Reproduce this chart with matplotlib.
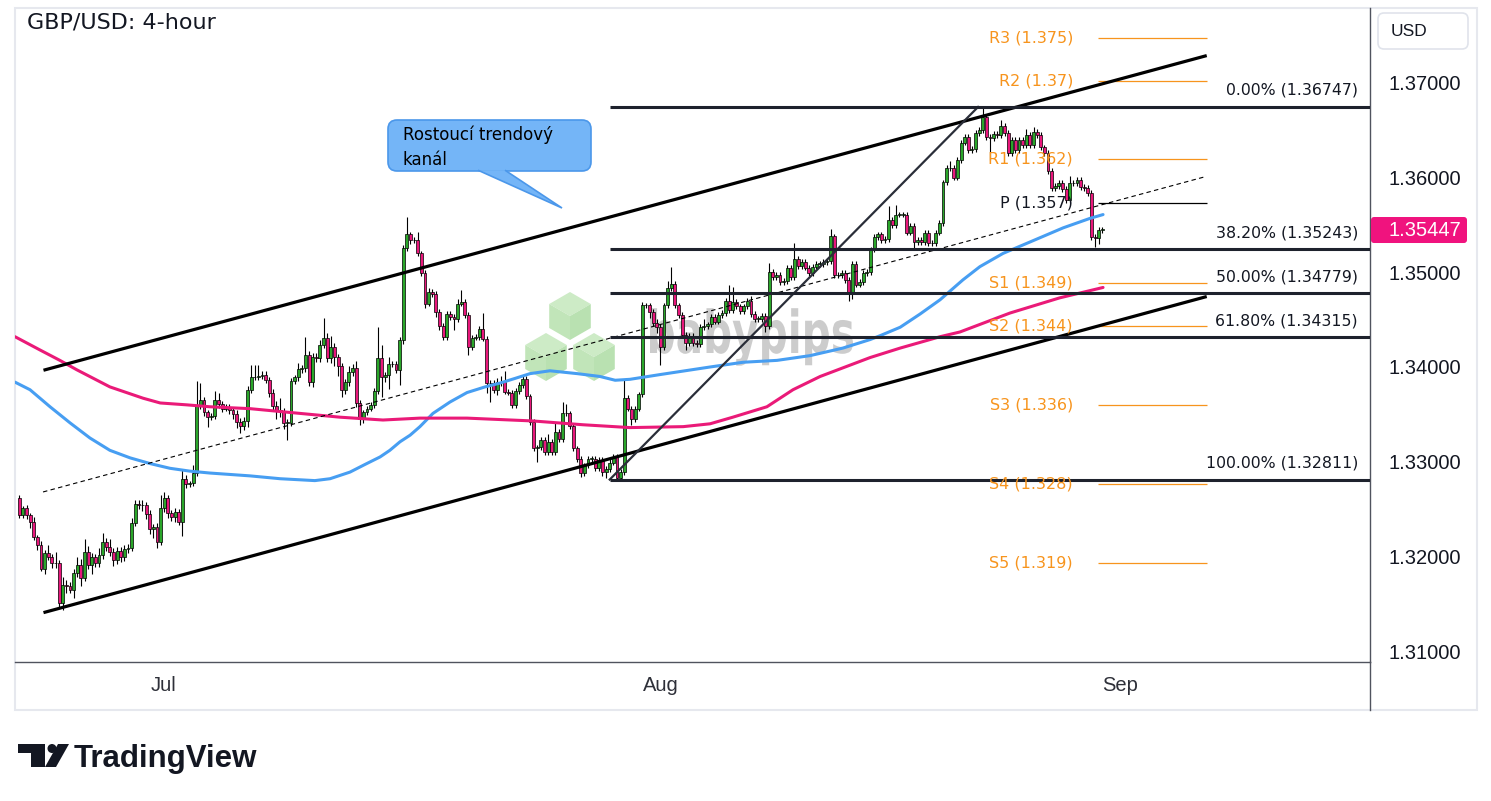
"""GBP/USD 4-hour chart: rising channel, Fibonacci retracement and pivot levels."""

import matplotlib

matplotlib.use("Agg")

import matplotlib.pyplot as plt  # noqa: E402
import matplotlib.transforms as mtransforms  # noqa: E402
import numpy as np  # noqa: E402
from matplotlib.font_manager import FontProperties  # noqa: E402
from matplotlib.lines import Line2D  # noqa: E402
from matplotlib.patches import Circle, FancyBboxPatch, PathPatch, Polygon, Rectangle  # noqa: E402
from matplotlib.textpath import TextPath  # noqa: E402

W, H = 1491, 801

# ---- candles: prices in pips above 1.3000 ------------------------------------
first_open = 262
closes = [
    244, 251, 244, 236, 220, 212, 187, 204, 199, 193,
    193, 151, 170, 169, 164, 182, 191, 177, 205, 191,
    199, 193, 201, 215, 210, 205, 196, 206, 199, 208,
    209, 235, 255, 254, 254, 245, 229, 231, 215, 251,
    262, 246, 242, 247, 236, 282, 276, 277, 288, 360,
    365, 352, 347, 348, 365, 361, 356, 358, 355, 350,
    342, 338, 343, 376, 389, 389, 390, 392, 386, 373,
    359, 355, 352, 341, 341, 385, 389, 398, 399, 413,
    384, 411, 409, 423, 431, 409, 421, 411, 401, 376,
    384, 395, 399, 362, 345, 352, 356, 360, 375, 409,
    389, 392, 403, 403, 397, 429, 526, 540, 534, 534,
    520, 499, 467, 479, 477, 458, 443, 432, 456, 453,
    451, 467, 469, 455, 421, 431, 432, 440, 430, 383,
    383, 376, 384, 384, 374, 373, 360, 375, 381, 387,
    369, 342, 314, 315, 323, 310, 321, 310, 331, 324,
    351, 351, 338, 314, 303, 288, 296, 303, 303, 293,
    302, 289, 292, 299, 305, 283, 289, 367, 356, 345,
    356, 371, 465, 465, 458, 446, 442, 421, 465, 483,
    488, 465, 455, 434, 425, 433, 425, 424, 442, 443,
    445, 453, 448, 455, 457, 470, 460, 469, 464, 459,
    464, 470, 456, 451, 451, 454, 443, 500, 495, 497,
    490, 491, 505, 495, 514, 507, 511, 505, 499, 506,
    509, 509, 511, 512, 538, 497, 497, 499, 492, 478,
    509, 487, 490, 499, 500, 524, 537, 540, 534, 535,
    555, 550, 561, 561, 561, 542, 549, 532, 534, 532,
    542, 531, 531, 542, 552, 595, 610, 610, 600, 619,
    637, 643, 629, 630, 647, 650, 664, 643, 642, 646,
    645, 655, 647, 626, 640, 629, 640, 634, 645, 634,
    648, 645, 632, 626, 607, 589, 591, 594, 588, 576,
    594, 594, 598, 590, 589, 584, 537, 536, 545, 545,
]
wick_up = [
    3, 2, 3, 2, 6, 3, 4, 3, 8, 3,
    12, 3, 8, 5, 4, 5, 8, 6, 13, 6,
    5, 4, 8, 10, 4, 8, 4, 4, 4, 4,
    4, 5, 5, 4, 6, 3, 4, 3, 4, 14,
    6, 3, 3, 4, 3, 10, 4, 3, 8, 25,
    18, 3, 3, 3, 10, 8, 3, 3, 3, 3,
    5, 4, 4, 4, 13, 13, 12, 4, 4, 3,
    4, 5, 12, 5, 4, 3, 3, 6, 3, 19,
    4, 4, 4, 6, 21, 5, 12, 4, 3, 3,
    3, 6, 4, 7, 3, 3, 3, 3, 3, 33,
    14, 3, 8, 3, 3, 3, 3, 18, 3, 3,
    9, 3, 3, 4, 3, 3, 3, 3, 3, 3,
    3, 5, 12, 3, 3, 3, 3, 3, 17, 3,
    3, 3, 4, 6, 12, 3, 3, 3, 3, 3,
    3, 3, 3, 3, 3, 3, 8, 3, 10, 3,
    12, 10, 3, 3, 3, 3, 3, 3, 3, 3,
    3, 3, 3, 5, 3, 3, 3, 19, 3, 3,
    3, 3, 4, 3, 3, 3, 5, 3, 3, 8,
    18, 3, 3, 3, 3, 3, 3, 3, 3, 8,
    3, 3, 3, 3, 3, 3, 17, 15, 3, 3,
    3, 3, 5, 3, 3, 3, 3, 10, 3, 3,
    3, 3, 3, 3, 17, 3, 3, 3, 3, 3,
    3, 3, 3, 3, 8, 3, 3, 3, 3, 3,
    3, 3, 3, 3, 3, 3, 3, 3, 3, 3,
    15, 3, 10, 3, 3, 3, 3, 3, 3, 3,
    3, 3, 3, 3, 3, 3, 3, 8, 3, 3,
    3, 3, 3, 3, 3, 3, 11, 3, 3, 3,
    3, 6, 3, 3, 3, 3, 3, 3, 6, 3,
    6, 3, 3, 3, 3, 3, 3, 3, 3, 3,
    8, 3, 3, 3, 3, 3, 3, 3, 3, 3,
]
wick_dn = [
    4, 3, 5, 6, 3, 5, 3, 6, 3, 5,
    5, 6, 8, 8, 3, 8, 4, 8, 3, 4,
    10, 4, 4, 4, 4, 5, 6, 4, 5, 4,
    4, 3, 3, 4, 6, 6, 5, 10, 6, 3,
    4, 5, 5, 6, 3, 15, 4, 3, 3, 3,
    4, 4, 10, 3, 3, 4, 4, 3, 5, 5,
    6, 8, 5, 6, 3, 3, 3, 3, 3, 5,
    5, 10, 5, 6, 18, 3, 3, 4, 4, 4,
    4, 5, 4, 4, 3, 4, 5, 10, 10, 8,
    4, 4, 4, 4, 6, 4, 3, 3, 3, 3,
    21, 5, 15, 3, 3, 16, 5, 3, 4, 3,
    3, 3, 5, 3, 3, 5, 4, 3, 3, 3,
    12, 3, 3, 3, 8, 3, 3, 3, 3, 10,
    20, 3, 6, 4, 3, 3, 3, 3, 3, 3,
    3, 3, 3, 14, 3, 3, 3, 3, 3, 3,
    3, 3, 3, 3, 3, 4, 3, 3, 3, 3,
    3, 4, 6, 3, 3, 2, 3, 3, 3, 6,
    3, 3, 3, 3, 6, 3, 6, 19, 3, 3,
    3, 3, 3, 3, 7, 3, 3, 3, 3, 3,
    3, 3, 3, 3, 3, 3, 3, 3, 3, 3,
    3, 3, 3, 3, 3, 3, 6, 3, 3, 3,
    3, 3, 3, 3, 3, 3, 3, 3, 3, 3,
    3, 3, 3, 3, 3, 3, 3, 3, 3, 8,
    6, 3, 3, 3, 3, 3, 3, 3, 3, 3,
    3, 3, 3, 3, 3, 3, 3, 8, 3, 3,
    3, 3, 3, 3, 3, 3, 3, 3, 3, 3,
    3, 3, 3, 3, 3, 3, 3, 3, 23, 3,
    3, 3, 3, 3, 3, 3, 3, 3, 3, 3,
    3, 3, 3, 3, 3, 3, 3, 3, 3, 3,
    3, 3, 3, 3, 3, 3, 3, 9, 6, 3,
]
last_price = 1.35447

# ---- moving averages (candle index, pips above 1.3000) ----------------------
blue_ma_idx = [-1.19, 2.95, 8.48, 14.0, 19.5, 25.0, 30.6, 36.1, 41.6, 47.1, 52.6, 63.7,
               72.0, 81.6, 85.8, 91.3, 95.4, 99.6, 102.3, 105.1, 107.9, 110.6, 114.2,
               118.9, 123.6, 128.6, 132.7, 136.9, 141.0, 146.5, 154.0, 160.3, 164.5,
               168.6, 176.9, 183.8, 190.7, 199.8, 209.2, 218.3, 227.4, 234.9, 237.6,
               243.2, 248.7, 254.2, 260.5, 265.2, 271.6, 279.0, 288.2, 295.6, 299.2]
blue_ma = [384, 376, 358, 341, 325, 312, 304, 298, 293, 290, 288, 285,
           282, 280, 282, 289, 297, 305, 312, 321, 328, 337, 351,
           363, 373, 379, 383, 388, 393, 396, 393, 390, 386,
           387, 392, 396, 400, 405, 407, 412, 420, 429, 433,
           442, 456, 471, 492, 506, 520, 532, 547, 557, 561]
red_ma_idx = [-1.19, 5.7, 11.2, 15.9, 25.0, 34.2, 38.9, 46.3, 52.6, 63.7, 74.7, 88.5,
              100.4, 110.6, 123.6, 141.8, 155.6, 168.6, 183.3, 190.7, 197.0, 206.4,
              213.6, 221.1, 228.0, 234.9, 243.2, 254.2, 259.7, 273.5, 287.2, 299.2]
red_ma = [432, 418, 407, 397, 379, 367, 362, 360, 358, 356, 352, 347,
          344, 346, 346, 343, 339, 336, 337, 340, 347, 358,
          376, 390, 400, 410, 420, 432, 437, 457, 473, 484]

# ---- axes ------------------------------------------------------------------
month_ticks = [39.7, 177.2, 304.0]
month_labels = ["Jul", "Aug", "Sep"]
price_ticks = [1.31, 1.32, 1.33, 1.34, 1.35, 1.36, 1.37]
x_range = (-1.19, 372.9)
y_range = (1.30884, 1.37792)

# ---- drawings ---------------------------------------------------------------
channel_x = [7.1, 327.4]
channel_upper = [1.3397, 1.37285]
channel_lower = [1.3141, 1.3474]
mid_x = [6.55, 327.4]
channel_mid = [1.3268, 1.3601]

fib_start, fib_end = 163.0, 264.7
fib_low, fib_high = 1.32811, 1.36747
fib_ratios = [0.0, 0.382, 0.5, 0.618, 1.0]

pivot_names = ["R3", "R2", "R1", "P", "S1", "S2", "S3", "S4", "S5"]
pivot_values = [1.3748, 1.3702, 1.3620, 1.3573, 1.3489, 1.3443, 1.3360, 1.3276, 1.3193]
pivot_text = ["1.375", "1.37", "1.362", "1.357", "1.349", "1.344", "1.336", "1.328", "1.319"]
pivot_span = (297.8, 327.9)

GREEN = "#2aa62a"
PINK = "#e8177b"
BLUE = "#479ef2"
MAGENTA = "#ea1a78"
ORANGE = "#f7941d"
INK = "#131722"

plt.rcParams["font.family"] = ["DejaVu Sans"]

fig = plt.figure(figsize=(W / 100, H / 100), dpi=100)
fig.patch.set_facecolor("white")
# image-pixel coordinates (y down) -> display coordinates
pix = mtransforms.Affine2D().scale(1, -1).translate(0, H)

ax = fig.add_axes([15 / W, 1 - 662 / H, (1370 - 15) / W, (662 - 8) / H])
ax.set_xlim(*x_range)
ax.set_ylim(*y_range)
ax.set_zorder(2)
ax.patch.set_alpha(0)

# candles
x = np.arange(len(closes))
c = 1.3 + np.array(closes) / 1e4
o = np.concatenate([[1.3 + first_open / 1e4], c[:-1]])
hi = np.maximum(o, c) + np.array(wick_up) / 1e4
lo = np.minimum(o, c) - np.array(wick_dn) / 1e4
colors = np.where(c >= o, GREEN, PINK)
ax.vlines(x, lo, hi, color="#000000", lw=0.8, zorder=3)
ax.bar(x, np.maximum(np.abs(c - o), 0.00004), bottom=np.minimum(o, c), width=0.8,
       color=colors, edgecolor="#000000", linewidth=0.5, zorder=3.1)

# moving averages
ax.plot(blue_ma_idx, 1.3 + np.array(blue_ma) / 1e4, color=BLUE, lw=2.2, zorder=4,
        solid_capstyle="round", solid_joinstyle="round")
ax.plot(red_ma_idx, 1.3 + np.array(red_ma) / 1e4, color=MAGENTA, lw=2.2, zorder=4,
        solid_capstyle="round", solid_joinstyle="round")

# rising channel
ax.plot(channel_x, channel_upper, color="#000000", lw=2.3, zorder=6)
ax.plot(channel_x, channel_lower, color="#000000", lw=2.3, zorder=6)
ax.plot(mid_x, channel_mid, color="#000000", lw=0.8, dashes=(4, 3), zorder=6)

# fibonacci retracement
ax.plot([fib_start, fib_end], [fib_low, fib_high], color="#2a2e39", lw=1.6, zorder=6)
for r in fib_ratios:
    level = fib_high - r * (fib_high - fib_low)
    ax.hlines(level, fib_start, x_range[1], color="#1e222d", lw=2.2, zorder=6)
    ax.annotate(f"{r * 100:.2f}% ({level:.5f})", (369.6, level), xytext=(0, 6.5),
                textcoords="offset points", ha="right", va="bottom", fontsize=11.3,
                color=INK, zorder=7)

# pivots
for name, val, txt in zip(pivot_names, pivot_values, pivot_text):
    col = INK if name == "P" else ORANGE
    ax.hlines(val, *pivot_span, color="#000000" if name == "P" else ORANGE, lw=0.9, zorder=5)
    ax.text(290.9, val, f"{name} ({txt})", ha="right", va="center", fontsize=11.5,
            color=col, zorder=7)

# axes styling
for side in ("top", "left"):
    ax.spines[side].set_visible(False)
for side in ("bottom", "right"):
    ax.spines[side].set_color("#50535e")
    ax.spines[side].set_linewidth(1.0)
ax.yaxis.tick_right()
ax.set_yticks(price_ticks, [f"{p:.5f}" for p in price_ticks])
ax.set_xticks(month_ticks, month_labels)
ax.tick_params(axis="y", length=0, pad=13, labelsize=14.5, labelcolor=INK)
ax.tick_params(axis="x", length=0, pad=10, labelsize=14.5, labelcolor="#2e3039")
for lab in ax.get_xticklabels() + ax.get_yticklabels():
    lab.set_fontfamily("Liberation Sans")

# babypips watermark: three cubes and a condensed word
for cx, cy in [(570, 316), (546, 357), (594, 357)]:
    r = 24.0
    top = (cx, cy - r)
    ur, lr = (cx + 0.866 * r, cy - r / 2), (cx + 0.866 * r, cy + r / 2)
    bot = (cx, cy + r)
    ll, ul = (cx - 0.866 * r, cy + r / 2), (cx - 0.866 * r, cy - r / 2)
    mid = (cx, cy)
    for face, col in [([top, ur, mid, ul], "#cdebc6"),
                      ([ul, mid, bot, ll], "#c1e5b9"),
                      ([mid, ur, lr, bot], "#b9e1b1")]:
        fig.add_artist(Polygon(face, closed=True, transform=pix, facecolor=col,
                               edgecolor="none", zorder=1))
word = TextPath((0, 0), "babypips", size=1, prop=FontProperties(family="DejaVu Sans", weight="bold"))
bb = word.get_extents()
sx, sy = 203 / bb.width, 59.0
word_tr = mtransforms.Affine2D().scale(sx, -sy).translate(650 - bb.x0 * sx, 353) + pix
fig.add_artist(PathPatch(word, transform=word_tr, facecolor="#c4c4c4", edgecolor="none",
                         alpha=0.85, zorder=1))

# last price tag
y_img = H - ax.transData.transform((0, last_price))[1]
fig.add_artist(FancyBboxPatch((1371, y_img - 13), 96, 26, boxstyle="round,pad=0,rounding_size=3",
                              transform=pix, facecolor="#f0137e", edgecolor="none", zorder=5))
fig.text(1388, y_img, f"{last_price:.5f}", transform=pix, fontsize=14.5, color="white",
         ha="left", va="center", family="Liberation Sans", zorder=6)

# currency box
fig.add_artist(FancyBboxPatch((1378, 13), 90, 36, boxstyle="round,pad=0,rounding_size=6",
                              transform=pix, facecolor="white", edgecolor="#e0e3eb", lw=1.2,
                              zorder=5))
fig.text(1391, 31, "USD", transform=pix, fontsize=12.5, color=INK, ha="left", va="center",
         family="Liberation Sans", zorder=6)

# callout
fig.add_artist(FancyBboxPatch((388, 120), 203, 51, boxstyle="round,pad=0,rounding_size=9",
                              transform=pix, facecolor="#74b5f7", edgecolor="#4b97ea", lw=1.2,
                              zorder=5))
fig.add_artist(Polygon([(478, 170.2), (562, 208), (505, 170.2)], closed=False, transform=pix,
                       facecolor="#74b5f7", edgecolor="#4b97ea", lw=1.2, zorder=5.5))
fig.text(403, 135, "Rostoucí trendový", transform=pix, fontsize=12, color="#000000",
         ha="left", va="center", zorder=6)
fig.text(403, 160, "kanál", transform=pix, fontsize=12, color="#000000",
         ha="left", va="center", zorder=6)

# title
fig.text(27, 23, "GBP/USD: 4-hour", transform=pix, fontsize=16, color=INK,
         ha="left", va="center")

# outer frame and separators
fig.add_artist(Rectangle((15, 8), 1462, 702, transform=pix, facecolor="none",
                         edgecolor="#e6e8ee", lw=1.5, zorder=0.5))
fig.add_artist(Line2D([1370, 1370], [662, 710], transform=pix, color="#50535e", lw=1.0))

# TradingView logo
fig.add_artist(Rectangle((18, 744), 27, 9, transform=pix, facecolor=INK, edgecolor="none"))
fig.add_artist(Rectangle((31, 744), 14, 23, transform=pix, facecolor=INK, edgecolor="none"))
fig.add_artist(Circle((52, 748.5), 4.5, transform=pix, facecolor=INK, edgecolor="none"))
fig.add_artist(Polygon([(45, 767), (56, 767), (69, 744), (58, 744)], closed=True,
                       transform=pix, facecolor=INK, edgecolor="none"))
fig.text(74, 767, "TradingView", transform=pix, fontsize=22.5, fontweight="bold",
         color=INK, ha="left", va="baseline", family="Liberation Sans")

fig.savefig("out.png", dpi=100)
